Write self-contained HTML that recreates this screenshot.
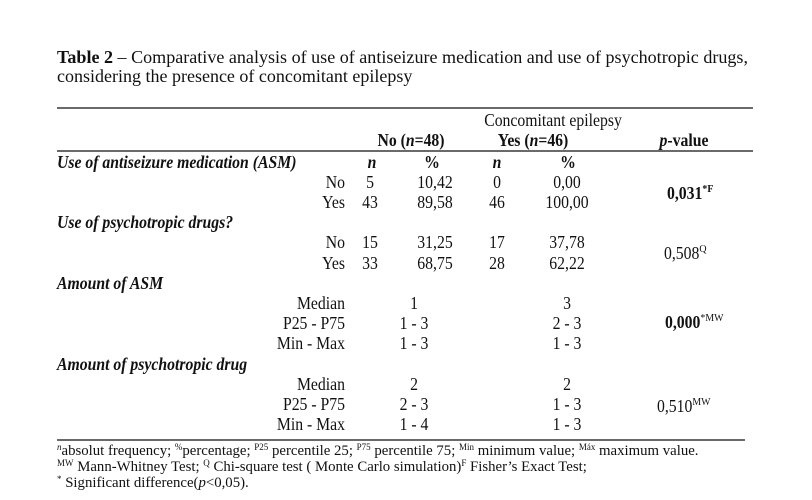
<!DOCTYPE html>
<html><head><meta charset="utf-8"><style>
html,body{margin:0;padding:0;background:#fff;}
svg{display:block;}
text{font-family:"Liberation Serif",serif;fill:#111;}
.b{font-size:17.5px;}
.f{font-size:14.8px;}
</style></head><body>
<svg width="812" height="500" viewBox="0 0 812 500" xmlns="http://www.w3.org/2000/svg">
<rect width="812" height="500" fill="#fff"/>
<!-- Title -->
<text x="57" y="63" font-size="18" textLength="691" lengthAdjust="spacingAndGlyphs"><tspan font-weight="bold">Table 2</tspan> – Comparative analysis of use of antiseizure medication and use of psychotropic drugs,</text>
<text x="57" y="82" font-size="18">considering the presence of concomitant epilepsy</text>
<!-- rules -->
<line x1="57" y1="108" x2="753" y2="108" stroke="#111" stroke-width="1.3"/>
<line x1="57" y1="151" x2="753" y2="151" stroke="#111" stroke-width="1.3"/>
<line x1="57" y1="440" x2="745" y2="440" stroke="#111" stroke-width="1.3"/>

<!-- header -->
<text class="b" transform="translate(553,126) scale(0.9,1)" text-anchor="middle">Concomitant epilepsy</text>
<text class="b" transform="translate(411,146) scale(0.9,1)" text-anchor="middle" font-weight="bold">No (<tspan font-style="italic">n</tspan>=48)</text>
<text class="b" transform="translate(533,146) scale(0.9,1)" text-anchor="middle" font-weight="bold">Yes (<tspan font-style="italic">n</tspan>=46)</text>
<text class="b" transform="translate(684,146) scale(0.9,1)" text-anchor="middle" font-weight="bold"><tspan font-style="italic">p</tspan>-value</text>

<!-- Section 1 -->
<text class="b" transform="translate(57,168) scale(0.9,1)" font-weight="bold" font-style="italic">Use of antiseizure medication (ASM)</text>
<text class="b" transform="translate(372,168) scale(0.9,1)" text-anchor="middle" font-weight="bold" font-style="italic">n</text>
<text class="b" transform="translate(432,168) scale(0.9,1)" text-anchor="middle" font-weight="bold">%</text>
<text class="b" transform="translate(497,168) scale(0.9,1)" text-anchor="middle" font-weight="bold" font-style="italic">n</text>
<text class="b" transform="translate(568,168) scale(0.9,1)" text-anchor="middle" font-weight="bold">%</text>

<text class="b" transform="translate(345,188) scale(0.9,1)" text-anchor="end">No</text>
<text class="b" transform="translate(370,188) scale(0.9,1)" text-anchor="middle">5</text>
<text class="b" transform="translate(435,188) scale(0.9,1)" text-anchor="middle">10,42</text>
<text class="b" transform="translate(497,188) scale(0.9,1)" text-anchor="middle">0</text>
<text class="b" transform="translate(567,188) scale(0.9,1)" text-anchor="middle">0,00</text>

<text class="b" transform="translate(345,208) scale(0.9,1)" text-anchor="end">Yes</text>
<text class="b" transform="translate(370,208) scale(0.9,1)" text-anchor="middle">43</text>
<text class="b" transform="translate(435,208) scale(0.9,1)" text-anchor="middle">89,58</text>
<text class="b" transform="translate(497,208) scale(0.9,1)" text-anchor="middle">46</text>
<text class="b" transform="translate(567,208) scale(0.9,1)" text-anchor="middle">100,00</text>

<text class="b" transform="translate(667,199) scale(0.9,1)" font-weight="bold">0,031<tspan font-size="11" dy="-7">*F</tspan></text>

<!-- Section 2 -->
<text class="b" transform="translate(57,228) scale(0.9,1)" font-weight="bold" font-style="italic">Use of psychotropic drugs?</text>
<text class="b" transform="translate(345,248) scale(0.9,1)" text-anchor="end">No</text>
<text class="b" transform="translate(370,248) scale(0.9,1)" text-anchor="middle">15</text>
<text class="b" transform="translate(435,248) scale(0.9,1)" text-anchor="middle">31,25</text>
<text class="b" transform="translate(497,248) scale(0.9,1)" text-anchor="middle">17</text>
<text class="b" transform="translate(567,248) scale(0.9,1)" text-anchor="middle">37,78</text>

<text class="b" transform="translate(345,269) scale(0.9,1)" text-anchor="end">Yes</text>
<text class="b" transform="translate(370,269) scale(0.9,1)" text-anchor="middle">33</text>
<text class="b" transform="translate(435,269) scale(0.9,1)" text-anchor="middle">68,75</text>
<text class="b" transform="translate(497,269) scale(0.9,1)" text-anchor="middle">28</text>
<text class="b" transform="translate(567,269) scale(0.9,1)" text-anchor="middle">62,22</text>

<text class="b" transform="translate(664,259) scale(0.9,1)">0,508<tspan font-size="11" dy="-7">Q</tspan></text>

<!-- Section 3 -->
<text class="b" transform="translate(57,289) scale(0.9,1)" font-weight="bold" font-style="italic">Amount of ASM</text>
<text class="b" transform="translate(345,309) scale(0.9,1)" text-anchor="end">Median</text>
<text class="b" transform="translate(414,309) scale(0.9,1)" text-anchor="middle">1</text>
<text class="b" transform="translate(567,309) scale(0.9,1)" text-anchor="middle">3</text>
<text class="b" transform="translate(345,329) scale(0.9,1)" text-anchor="end">P25 - P75</text>
<text class="b" transform="translate(414,329) scale(0.9,1)" text-anchor="middle">1 - 3</text>
<text class="b" transform="translate(567,329) scale(0.9,1)" text-anchor="middle">2 - 3</text>
<text class="b" transform="translate(345,349) scale(0.9,1)" text-anchor="end">Min - Max</text>
<text class="b" transform="translate(414,349) scale(0.9,1)" text-anchor="middle">1 - 3</text>
<text class="b" transform="translate(567,349) scale(0.9,1)" text-anchor="middle">1 - 3</text>

<text class="b" transform="translate(665,328) scale(0.9,1)" font-weight="bold">0,000<tspan font-size="11" dy="-7" font-weight="normal">*MW</tspan></text>

<!-- Section 4 -->
<text class="b" transform="translate(57,370) scale(0.9,1)" font-weight="bold" font-style="italic">Amount of psychotropic drug</text>
<text class="b" transform="translate(345,390) scale(0.9,1)" text-anchor="end">Median</text>
<text class="b" transform="translate(414,390) scale(0.9,1)" text-anchor="middle">2</text>
<text class="b" transform="translate(567,390) scale(0.9,1)" text-anchor="middle">2</text>
<text class="b" transform="translate(345,410) scale(0.9,1)" text-anchor="end">P25 - P75</text>
<text class="b" transform="translate(414,410) scale(0.9,1)" text-anchor="middle">2 - 3</text>
<text class="b" transform="translate(567,410) scale(0.9,1)" text-anchor="middle">1 - 3</text>
<text class="b" transform="translate(345,430) scale(0.9,1)" text-anchor="end">Min - Max</text>
<text class="b" transform="translate(414,430) scale(0.9,1)" text-anchor="middle">1 - 4</text>
<text class="b" transform="translate(567,430) scale(0.9,1)" text-anchor="middle">1 - 3</text>

<text class="b" transform="translate(657,412) scale(0.9,1)">0,510<tspan font-size="11" dy="-7">MW</tspan></text>

<!-- Footnotes -->
<text class="f" x="57" y="455"><tspan font-size="9" dy="-5" font-style="italic">n</tspan><tspan dy="5">absolut frequency; </tspan><tspan font-size="9" dy="-5">%</tspan><tspan dy="5">percentage; </tspan><tspan font-size="9" dy="-5">P25</tspan><tspan dy="5"> percentile 25; </tspan><tspan font-size="9" dy="-5">P75</tspan><tspan dy="5"> percentile 75; </tspan><tspan font-size="9" dy="-5">Min</tspan><tspan dy="5"> minimum value; </tspan><tspan font-size="9" dy="-5">Máx</tspan><tspan dy="5"> maximum value.</tspan></text>
<text class="f" x="57" y="471"><tspan font-size="9" dy="-5">MW</tspan><tspan dy="5"> Mann-Whitney Test; </tspan><tspan font-size="9" dy="-5">Q</tspan><tspan dy="5"> Chi-square test ( Monte Carlo simulation)</tspan><tspan font-size="9" dy="-5">F</tspan><tspan dy="5"> Fisher’s Exact Test;</tspan></text>
<text class="f" x="57" y="487"><tspan font-size="9" dy="-5">*</tspan><tspan dy="5"> Significant difference(</tspan><tspan font-style="italic">p</tspan>&lt;0,05).</text>
</svg>
</body></html>
